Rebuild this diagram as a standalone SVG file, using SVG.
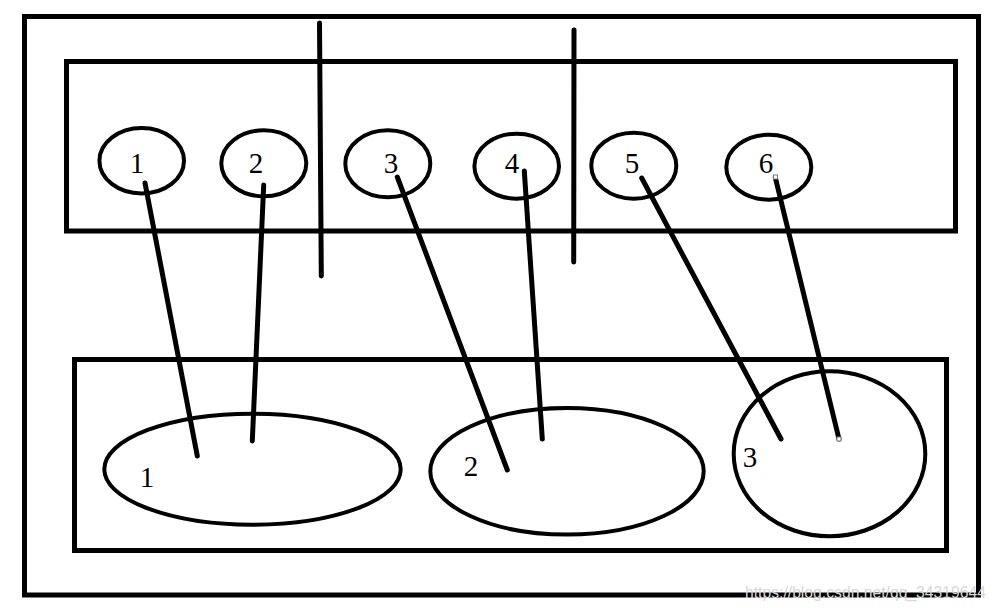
<svg xmlns="http://www.w3.org/2000/svg" width="998" height="611" viewBox="0 0 998 611">
<style>
.box{fill:none;stroke:#000;stroke-width:5}
.ell{fill:none;stroke:#000;stroke-width:4}
.ln{stroke:#000;stroke-width:5;stroke-linecap:round}
.lbl{font-family:"Liberation Serif","DejaVu Serif",serif;font-size:29px;fill:#000;text-anchor:middle}
.wm{font-family:"Liberation Sans","DejaVu Sans",sans-serif;font-size:17px;fill:#d8d8d8}
.h{fill:#fff;stroke:#777;stroke-width:1}
</style>
<rect width="998" height="611" fill="#fff"/>
<g id="frame"><rect class="box" x="24.5" y="16.5" width="954" height="578.5"/></g>
<g id="top-panel"><rect class="box" x="66.5" y="61.5" width="889" height="169.5"/></g>
<g id="bottom-panel"><rect class="box" x="74.5" y="359.5" width="872" height="191"/></g>
<g id="s1"><ellipse class="ell" cx="141.7" cy="160.7" rx="42.3" ry="32.7"/><text class="lbl" x="137" y="173">1</text></g>
<g id="s2"><ellipse class="ell" cx="263.8" cy="163.3" rx="42.5" ry="33"/><text class="lbl" x="256" y="173">2</text></g>
<g id="s3"><ellipse class="ell" cx="387.8" cy="163.8" rx="42.5" ry="33.5"/><text class="lbl" x="391" y="173">3</text></g>
<g id="s4"><ellipse class="ell" cx="516.7" cy="166.2" rx="42.3" ry="32.5"/><text class="lbl" x="512" y="173">4</text></g>
<g id="s5"><ellipse class="ell" cx="633.8" cy="165.7" rx="42.5" ry="33"/><text class="lbl" x="632" y="173">5</text></g>
<g id="s6"><ellipse class="ell" cx="768.8" cy="167.2" rx="42.5" ry="32.5"/><text class="lbl" x="766" y="173">6</text></g>
<g id="b1"><ellipse class="ell" cx="252.5" cy="469.2" rx="148.2" ry="55.5"/><text class="lbl" x="147" y="487">1</text></g>
<g id="b2"><ellipse class="ell" cx="567" cy="471.3" rx="136.7" ry="63.3"/><text class="lbl" x="471" y="476">2</text></g>
<g id="b3"><ellipse class="ell" cx="829.5" cy="453.8" rx="95.8" ry="82.5"/><text class="lbl" x="750" y="467">3</text></g>
<g id="connectors">
<line class="ln" x1="319.5" y1="23" x2="321.3" y2="276"/>
<line class="ln" x1="574" y1="30" x2="573.7" y2="262"/>
<line class="ln" x1="145" y1="183" x2="197.3" y2="456"/>
<line class="ln" x1="263.7" y1="185" x2="252.3" y2="441"/>
<line class="ln" x1="397.3" y1="177" x2="507.3" y2="470"/>
<line class="ln" x1="524.3" y1="171" x2="542.3" y2="439"/>
<line class="ln" x1="641.7" y1="178" x2="781" y2="439"/>
<line class="ln" x1="775.3" y1="177.5" x2="839" y2="439"/>
<rect class="h" x="773.5" y="175" width="4" height="4"/>
<rect class="h" x="837" y="437" width="4" height="4"/>
</g>
<text class="wm" x="745" y="598" textLength="241" lengthAdjust="spacingAndGlyphs">https://blog.csdn.net/qq_34319644</text>
</svg>
